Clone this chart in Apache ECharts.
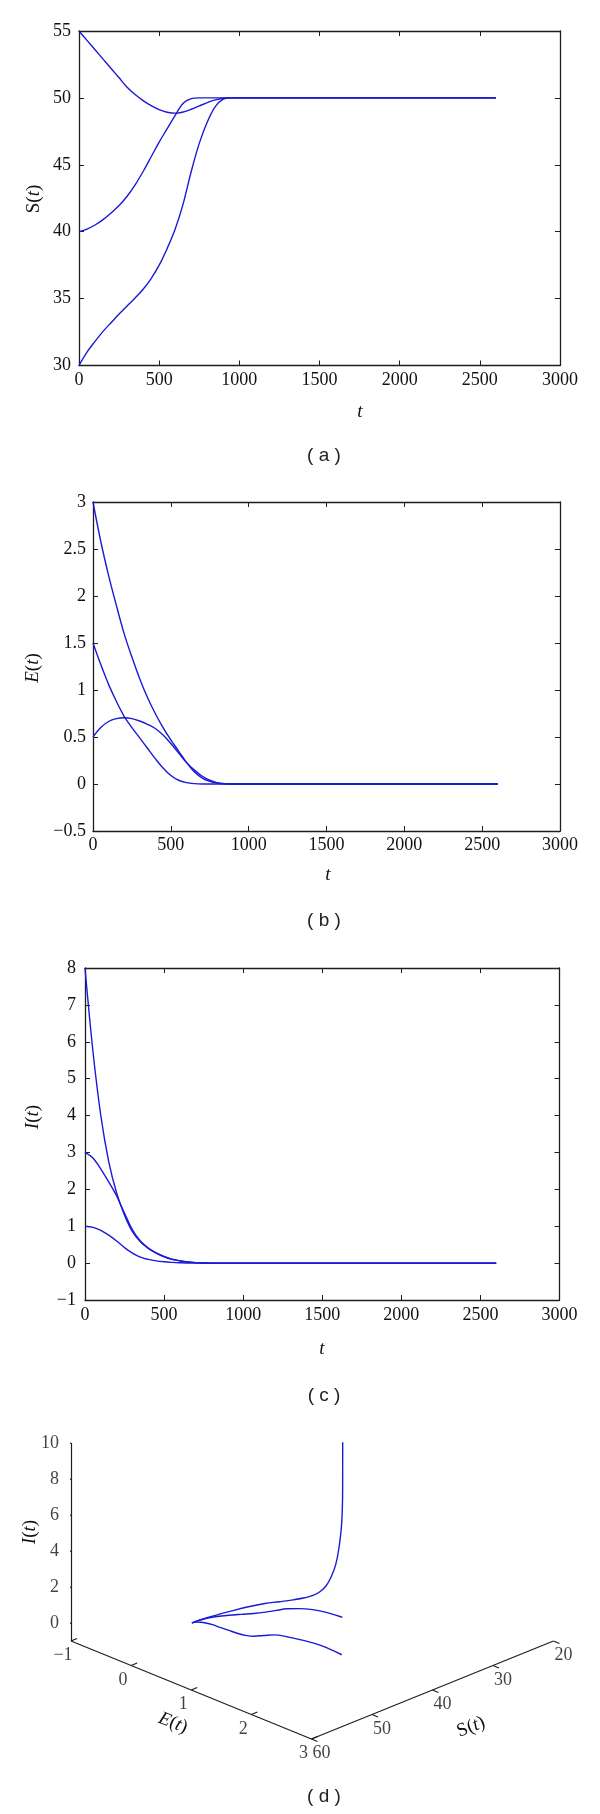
<!DOCTYPE html>
<html><head><meta charset="utf-8">
<script src="https://cdn.jsdelivr.net/npm/echarts@6/dist/echarts.min.js"></script>
<style>html,body{margin:0;padding:0;background:#fff}#c{width:600px;height:1814px}</style>
</head><body><div id="c"></div>
<script>
// ---- data ----
const timePoints = [0,50,100,150,200,250,300,350,400,450,500,550,600,650,700,750,800,850,900,950,1000,1500,2000,2600];
// trajectory 1: S0=30, E0=0.5, I0=8
const S_1 = [30,31.0,31.8,32.55,33.2,33.85,34.45,35.05,35.7,36.5,37.5,38.75,40.2,42.1,44.5,46.6,48.2,49.35,49.9,50,50,50,50,50];
const E_1 = [0.5,0.6,0.665,0.695,0.705,0.695,0.67,0.635,0.59,0.52,0.43,0.33,0.23,0.15,0.085,0.04,0.012,0.002,0,0,0,0,0,0];
const I_1 = [8,5.75,4.0,2.75,1.9,1.3,0.85,0.58,0.4,0.27,0.17,0.1,0.06,0.03,0.012,0.004,0,0,0,0,0,0,0,0];
// trajectory 2: S0=40, E0=1.5, I0=1
const S_2 = [40,40.2,40.5,40.9,41.4,41.95,42.65,43.5,44.5,45.6,46.7,47.7,48.7,49.6,49.95,50,50,50,50,50,50,50,50,50];
const E_2 = [1.5,1.27,1.06,0.88,0.72,0.6,0.49,0.38,0.27,0.17,0.09,0.04,0.015,0.004,0,0,0,0,0,0,0,0,0,0];
const I_2 = [1.0,0.97,0.89,0.76,0.6,0.42,0.27,0.16,0.1,0.06,0.035,0.02,0.01,0.004,0,0,0,0,0,0,0,0,0,0];
// trajectory 3: S0=55, E0=3, I0=3
const S_3 = [55,54.3,53.6,52.9,52.2,51.5,50.8,50.25,49.8,49.42,49.12,48.93,48.86,48.95,49.15,49.4,49.65,49.85,49.97,50,50,50,50,50];
const E_3 = [3.0,2.58,2.22,1.9,1.6,1.35,1.12,0.92,0.75,0.6,0.47,0.35,0.23,0.13,0.065,0.028,0.01,0.002,0,0,0,0,0,0];
const I_3 = [3.0,2.85,2.55,2.2,1.82,1.35,0.9,0.6,0.41,0.28,0.18,0.105,0.065,0.033,0.014,0.005,0,0,0,0,0,0,0,0];

// axis ranges / ticks
const tAxis = {min:0, max:3000, step:500};
const sAxis = {min:30, max:55, step:5};
const eAxis = {min:-0.5, max:3, step:0.5};
const iAxis = {min:-1, max:8, step:1};
// 3-D panel (d)
const dRangeS = [20,60], dRangeE = [-1,3], dRangeI = [-1,10];
const dTicksS = [20,30,40,50,60];
const dTicksE = [-1,0,1,2,3];
const dTicksI = [0,2,4,6,8,10];
const captions = ['( a )','( b )','( c )','( d )'];

// ---- styling ----
const AX = '#1e1e1e', BLUE = '#1a1ad6', SERIF = 'Liberation Serif', SANS = 'Liberation Sans';
const fmtNum = v => String(v).replace('-', '\u2212');

// 3-D view: normalized box coordinates projected to a 2-D plane
const VIEW = {sx:1.0065, slope:0.3984, h:0.8049};
function proj(S, E, I){
  const e = (E - dRangeE[0])/(dRangeE[1]-dRangeE[0]);
  const s = (dRangeS[1] - S)/(dRangeS[1]-dRangeS[0]);
  const i = (I - dRangeI[0])/(dRangeI[1]-dRangeI[0]);
  return [e + s*VIEW.sx, VIEW.slope*(e - s) - VIEW.h*i];
}

const grids = [
  {left:79, top:31, width:481, height:334.5},
  {left:93, top:502, width:467, height:329},
  {left:85, top:968, width:474.5, height:332},
  {left:71, top:1395, width:541.2, height:369}
];

const xAxes = [], yAxes = [];
function addPanelAxes(gi, yr, yMargin, xMargin){
  const line = {show:true, onZero:false, lineStyle:{color:AX, width:1.3}};
  const tick = {show:true, inside:true, length:5, lineStyle:{color:AX, width:1}};
  const lab = {fontFamily:SERIF, fontSize:18, color:'#111', formatter:fmtNum};
  xAxes.push({gridIndex:gi, type:'value', position:'bottom', min:tAxis.min, max:tAxis.max, interval:tAxis.step,
    axisLine:line, axisTick:tick, splitLine:{show:false}, axisLabel:Object.assign({margin:xMargin}, lab)});
  xAxes.push({gridIndex:gi, type:'value', position:'top', min:tAxis.min, max:tAxis.max, interval:tAxis.step,
    axisLine:line, axisTick:tick, splitLine:{show:false}, axisLabel:{show:false}});
  yAxes.push({gridIndex:gi, type:'value', position:'left', min:yr.min, max:yr.max, interval:yr.step,
    axisLine:line, axisTick:tick, splitLine:{show:false}, axisLabel:Object.assign({margin:yMargin}, lab)});
  yAxes.push({gridIndex:gi, type:'value', position:'right', min:yr.min, max:yr.max, interval:yr.step,
    axisLine:line, axisTick:tick, splitLine:{show:false}, axisLabel:{show:false}});
}
addPanelAxes(0, sAxis, 8, 6);
addPanelAxes(1, eAxis, 7, 5);
addPanelAxes(2, iAxis, 9, 6);
xAxes.push({gridIndex:3, type:'value', min:0, max:2.2, show:false});
yAxes.push({gridIndex:3, type:'value', min:-1, max:0.5, inverse:true, show:false});

const series = [];
function ts(xi, arr){
  series.push({type:'line', xAxisIndex:xi, yAxisIndex:xi, data:timePoints.map((t,k)=>[t, arr[k]]),
    symbol:'none', smooth:0.35, silent:true, lineStyle:{color:BLUE, width:1.4}});
}
[S_1,S_2,S_3].forEach(a=>ts(0,a));
[E_1,E_2,E_3].forEach(a=>ts(2,a));
[I_1,I_2,I_3].forEach(a=>ts(4,a));

// panel (d): box axes
const boxLines = [
  [proj(dRangeS[1],dRangeE[0],dRangeI[0]), proj(dRangeS[1],dRangeE[0],dRangeI[1])],
  [proj(dRangeS[1],dRangeE[0],dRangeI[0]), proj(dRangeS[1],dRangeE[1],dRangeI[0])],
  [proj(dRangeS[1],dRangeE[1],dRangeI[0]), proj(dRangeS[0],dRangeE[1],dRangeI[0])]
];
const TL = 0.025; // tick length in normalized box units
const tickLines = [];
dTicksI.forEach(v=>{ const p=proj(dRangeS[1],dRangeE[0],v); tickLines.push([p,[p[0]-TL*VIEW.sx, p[1]+TL*VIEW.slope]]); });
dTicksE.forEach(v=>{ const p=proj(dRangeS[1],v,dRangeI[0]); tickLines.push([p,[p[0]+TL*VIEW.sx, p[1]-TL*VIEW.slope]]); });
dTicksS.forEach(v=>{ const p=proj(v,dRangeE[1],dRangeI[0]); tickLines.push([p,[p[0]+TL, p[1]+TL*VIEW.slope]]); });
series.push({type:'lines', coordinateSystem:'cartesian2d', xAxisIndex:6, yAxisIndex:6, silent:true,
  data:boxLines.concat(tickLines).map(c=>({coords:c})), lineStyle:{color:AX, width:1.2, opacity:1}, effect:{show:false}});

const lab3 = {fontFamily:SERIF, fontSize:18, color:'#111'};
series.push({type:'scatter', xAxisIndex:6, yAxisIndex:6, symbolSize:0, silent:true,
  data:dTicksI.map(v=>proj(dRangeS[1],dRangeE[0],v).concat([v])),
  label:Object.assign({show:true, position:'left', distance:12, formatter:p=>fmtNum(p.value[2])}, lab3)});
series.push({type:'scatter', xAxisIndex:6, yAxisIndex:6, symbolSize:0, silent:true,
  data:dTicksE.map(v=>proj(dRangeS[1],v,dRangeI[0]).concat([v])),
  label:Object.assign({show:true, position:'inside', offset:[-8,14.5], formatter:p=>fmtNum(p.value[2])}, lab3)});
series.push({type:'scatter', xAxisIndex:6, yAxisIndex:6, symbolSize:0, silent:true,
  data:dTicksS.map(v=>proj(v,dRangeE[1],dRangeI[0]).concat([v])),
  label:Object.assign({show:true, position:'inside', offset:[10,14.6], formatter:p=>fmtNum(p.value[2])}, lab3)});

[[S_1,E_1,I_1],[S_2,E_2,I_2],[S_3,E_3,I_3]].forEach(([S,E,I])=>{
  series.push({type:'line', xAxisIndex:6, yAxisIndex:6, symbol:'none', smooth:0.4, silent:true,
    data:timePoints.map((t,k)=>proj(S[k],E[k],I[k])), lineStyle:{color:BLUE, width:1.4}});
});

// ---- texts ----
const rich = {
  n:{fontFamily:SERIF, fontSize:19, fill:'#111'},
  i:{fontFamily:SERIF, fontSize:19, fontStyle:'italic', fill:'#111'}
};
function txt(x, y, text, rot){
  return {type:'text', x:x, y:y, rotation:rot||0, silent:true,
    style:{text:text, rich:rich, fontFamily:SERIF, fontSize:19, fill:'#111', align:'center', verticalAlign:'middle'}};
}
function cap(x, y, text){
  return {type:'text', x:x, y:y, silent:true,
    style:{text:text, fontFamily:SANS, fontSize:19, fill:'#222', align:'center', verticalAlign:'middle'}};
}
const slopeAng = Math.atan(VIEW.slope);
const graphic = [
  txt(34,199,'{n|S}{n|(}{i|t}{n|)}',Math.PI/2), txt(360,412,'{i|t}'),
  txt(33,668,'{i|E}{n|(}{i|t}{n|)}',Math.PI/2), txt(328,875,'{i|t}'),
  txt(33,1117,'{i|I}{n|(}{i|t}{n|)}',Math.PI/2), txt(322,1349,'{i|t}'),
  txt(30,1532,'{i|I}{n|(}{i|t}{n|)}',Math.PI/2),
  txt(173,1723,'{i|E}{n|(}{i|t}{n|)}',-slopeAng),
  txt(471,1727,'{n|S}{n|(}{i|t}{n|)}',slopeAng),
  cap(324,456,captions[0]), cap(324,921,captions[1]), cap(324,1396,captions[2]), cap(324,1797,captions[3])
];

const chart = echarts.init(document.getElementById('c'), null, {renderer:'canvas', width:600, height:1814});
chart.setOption({animation:false, backgroundColor:'#fff', grid:grids, xAxis:xAxes, yAxis:yAxes, series:series, graphic:graphic});
</script></body></html>
